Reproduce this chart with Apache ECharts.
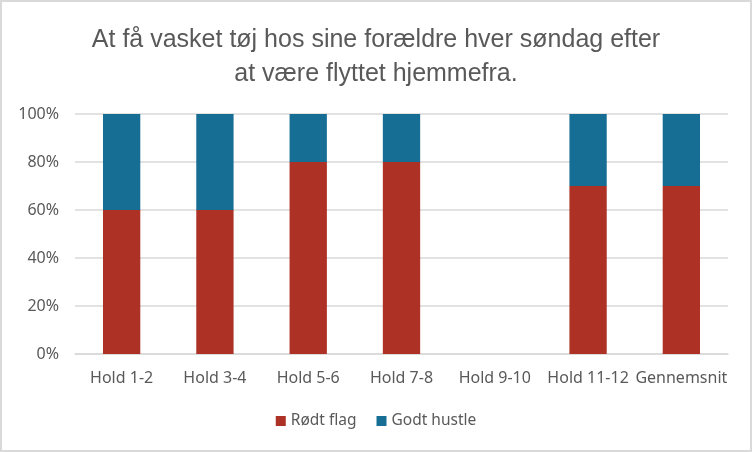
<!DOCTYPE html>
<html>
<head>
<meta charset="utf-8">
<script src="https://cdn.jsdelivr.net/npm/echarts@6/dist/echarts.min.js"></script>
<style>
html,body{margin:0;padding:0;background:#fff;}
#c{width:748px;height:448px;border:2px solid #d9d9d9;}
</style>
</head>
<body>
<div id="c"></div>
<script>
var categories = ['Hold 1-2','Hold 3-4','Hold 5-6','Hold 7-8','Hold 9-10','Hold 11-12','Gennemsnit'];
var rodtFlag = [0.6, 0.6, 0.8, 0.8, 0, 0.7, 0.7];
var godtHustle = [0.4, 0.4, 0.2, 0.2, 0, 0.3, 0.3];
var yTicks = [0, 0.2, 0.4, 0.6, 0.8, 1.0];

var chart = echarts.init(document.getElementById('c'));
var txt = '#595959';
chart.setOption({
  animation: false,
  title: {
    text: 'At få vasket tøj hos sine forældre hver søndag efter\nat være flyttet hjemmefra.',
    left: 'center',
    top: 16,
    textStyle: {
      fontFamily: '"Liberation Sans", sans-serif',
      fontSize: 25, fontWeight: 'normal', color: txt, lineHeight: 34
    }
  },
  legend: {
    bottom: 16,
    left: 'center',
    itemWidth: 10, itemHeight: 10,
    itemGap: 20,
    icon: 'rect',
    textStyle: {fontFamily: '"Noto Sans", sans-serif', fontSize: 15.5, color: txt},
    data: ['Rødt flag', 'Godt hustle']
  },
  grid: {left: 73, right: 22, top: 112, bottom: 96},
  xAxis: {
    type: 'category',
    data: categories,
    axisLine: {lineStyle: {color: '#d9d9d9', width: 1.5}},
    axisTick: {show: false},
    axisLabel: {fontFamily: '"Noto Sans", sans-serif', fontSize: 16, color: txt, margin: 16, interval: 0}
  },
  yAxis: {
    type: 'value',
    min: 0, max: 1, interval: 0.2,
    axisLine: {show: false},
    axisTick: {show: false},
    splitLine: {lineStyle: {color: '#d9d9d9', width: 1.5}},
    axisLabel: {
      fontFamily: '"Noto Sans", sans-serif', fontSize: 16, color: txt, margin: 16,
      formatter: function (v) { return Math.round(v * 100) + '%'; }
    }
  },
  series: [
    {name: 'Rødt flag', type: 'bar', stack: 's', data: rodtFlag, barWidth: '40%', itemStyle: {color: '#AD3124'}},
    {name: 'Godt hustle', type: 'bar', stack: 's', data: godtHustle, barWidth: '40%', itemStyle: {color: '#176E95'}}
  ]
});
</script>
</body>
</html>
